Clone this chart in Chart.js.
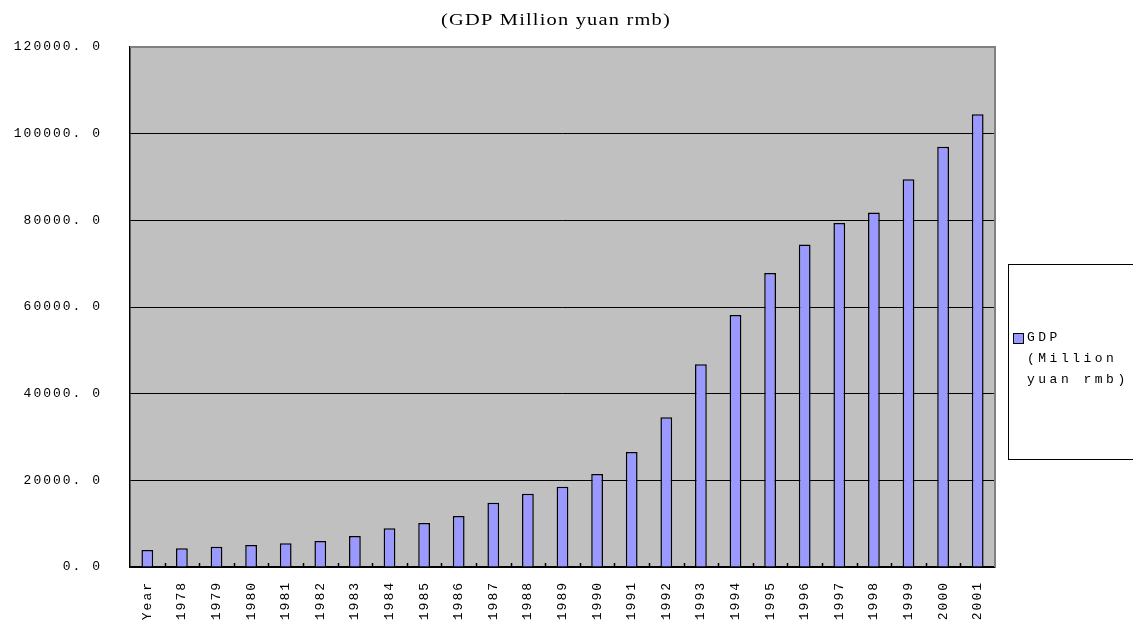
<!DOCTYPE html>
<html>
<head>
<meta charset="utf-8">
<script src="https://cdn.jsdelivr.net/npm/chart.js@4.4.0/dist/chart.umd.min.js"></script>
<style>
  html, body { margin: 0; padding: 0; background: #fff; }
  #wrap { width: 1133px; height: 628px; }
</style>
</head>
<body>
<div id="wrap"><canvas id="gdp-chart"></canvas></div>
<script>
var years = ['Year', '1978', '1979', '1980', '1981', '1982', '1983', '1984', '1985', '1986',
    '1987', '1988', '1989', '1990', '1991', '1992', '1993', '1994', '1995', '1996',
    '1997', '1998', '1999', '2000', '2001'];
var gdp = [3900, 4300, 4690, 5080, 5460, 6000, 7150, 8920, 10150, 11770,
    14840, 16920, 18540, 21460, 26540, 34540, 46770, 58150, 67850, 74400,
    79400, 81800, 89500, 97000, 104500];
var yTicks = [0, 20000, 40000, 60000, 80000, 100000, 120000];
var chartTitle = '(GDP Million yuan rmb)';
var seriesName = 'GDP (Million yuan rmb)';
var legendLines = ['GDP', '(Million', 'yuan rmb)'];

var monoFont = '"Liberation Mono", "DejaVu Sans Mono", monospace';
var serifFont = '"Liberation Serif", "DejaVu Serif", serif';

// grey plot area, frame, title, inward x ticks and the boxed legend
var plotFrame = {
    id: 'plotFrame',
    beforeDraw: function(chart) {
        var a = chart.chartArea, c = chart.ctx;
        c.save();
        c.fillStyle = '#c0c0c0';
        c.fillRect(a.left, a.top, a.right - a.left, a.bottom - a.top);
        c.restore();
        // wide spaced look of the old spreadsheet fonts
        c.letterSpacing = '2px';
    },
    afterDraw: function(chart) {
        var a = chart.chartArea, c = chart.ctx, xs = chart.scales.x;
        c.save();
        c.letterSpacing = '0px';
        c.strokeStyle = '#808080';
        c.lineWidth = 2;
        c.beginPath();
        c.moveTo(a.left, a.top);
        c.lineTo(a.right, a.top);
        c.lineTo(a.right, a.bottom);
        c.stroke();

        // small ticks between categories, pointing into the plot
        var half = (xs.getPixelForTick(1) - xs.getPixelForTick(0)) / 2;
        c.strokeStyle = '#000';
        c.lineWidth = 1.5;
        c.beginPath();
        for (var i = 1; i < years.length; i++) {
            var px = Math.round(xs.getPixelForTick(i) - half) + 0.5;
            c.moveTo(px, a.bottom);
            c.lineTo(px, a.bottom - 4);
        }
        c.stroke();

        // title, a bit stretched like the original
        c.fillStyle = '#000';
        c.save();
        c.translate(556, 21);
        c.scale(1.2, 1);
        c.letterSpacing = '1px';
        c.font = '17px ' + serifFont;
        c.textAlign = 'center';
        c.textBaseline = 'middle';
        c.fillText(chartTitle, 0, 0);
        c.restore();

        // legend box
        var ds = chart.data.datasets[0];
        c.strokeStyle = '#000';
        c.lineWidth = 1;
        c.strokeRect(1008.5, 264.5, 140, 195);
        c.fillStyle = ds.backgroundColor;
        c.fillRect(1013, 333, 10, 10);
        c.strokeRect(1013.5, 333.5, 10, 10);
        c.fillStyle = '#000';
        c.font = '13px ' + monoFont;
        c.letterSpacing = '3.5px';
        c.textAlign = 'left';
        c.textBaseline = 'middle';
        legendLines.forEach(function(t, i) {
            c.fillText(t, 1027, 338 + i * 21);
        });
        c.restore();
    }
};

var config = {
    type: 'bar',
    data: {
        labels: years,
        datasets: [{
            label: seriesName,
            data: gdp,
            backgroundColor: '#9999ff',
            borderColor: '#000000',
            borderWidth: 1.5,
            barPercentage: 0.34,
            categoryPercentage: 1.0
        }]
    },
    options: {
        responsive: true,
        maintainAspectRatio: false,
        animation: false,
        layout: { padding: { left: 0, right: 138, top: 47, bottom: 0 } },
        plugins: {
            legend: { display: false },
            tooltip: { enabled: false },
            title: { display: false }
        },
        scales: {
            x: {
                grid: { display: true, drawOnChartArea: false, drawTicks: false, offset: true },
                border: { display: true, color: '#000', width: 1.5 },
                ticks: {
                    color: '#000',
                    font: { family: monoFont, size: 13 },
                    minRotation: 90,
                    maxRotation: 90,
                    padding: 14,
                    autoSkip: false
                },
                afterFit: function(scale) { scale.height = 61; }
            },
            y: {
                min: 0,
                max: 120000,
                afterBuildTicks: function(scale) {
                    scale.ticks = yTicks.map(function(v) { return { value: v }; });
                },
                grid: { color: '#000', lineWidth: 1, drawTicks: false },
                border: { display: true, color: '#000', width: 1.5 },
                ticks: {
                    color: '#000',
                    font: { family: monoFont, size: 13 },
                    padding: 28,
                    callback: function(v) { return v.toFixed(1).replace('.', '. '); }
                },
                afterFit: function(scale) { scale.width = 130; }
            }
        }
    },
    plugins: [plotFrame]
};

var ctx = document.getElementById('gdp-chart').getContext('2d');
window.gdpChart = new Chart(ctx, config);
</script>
</body>
</html>
